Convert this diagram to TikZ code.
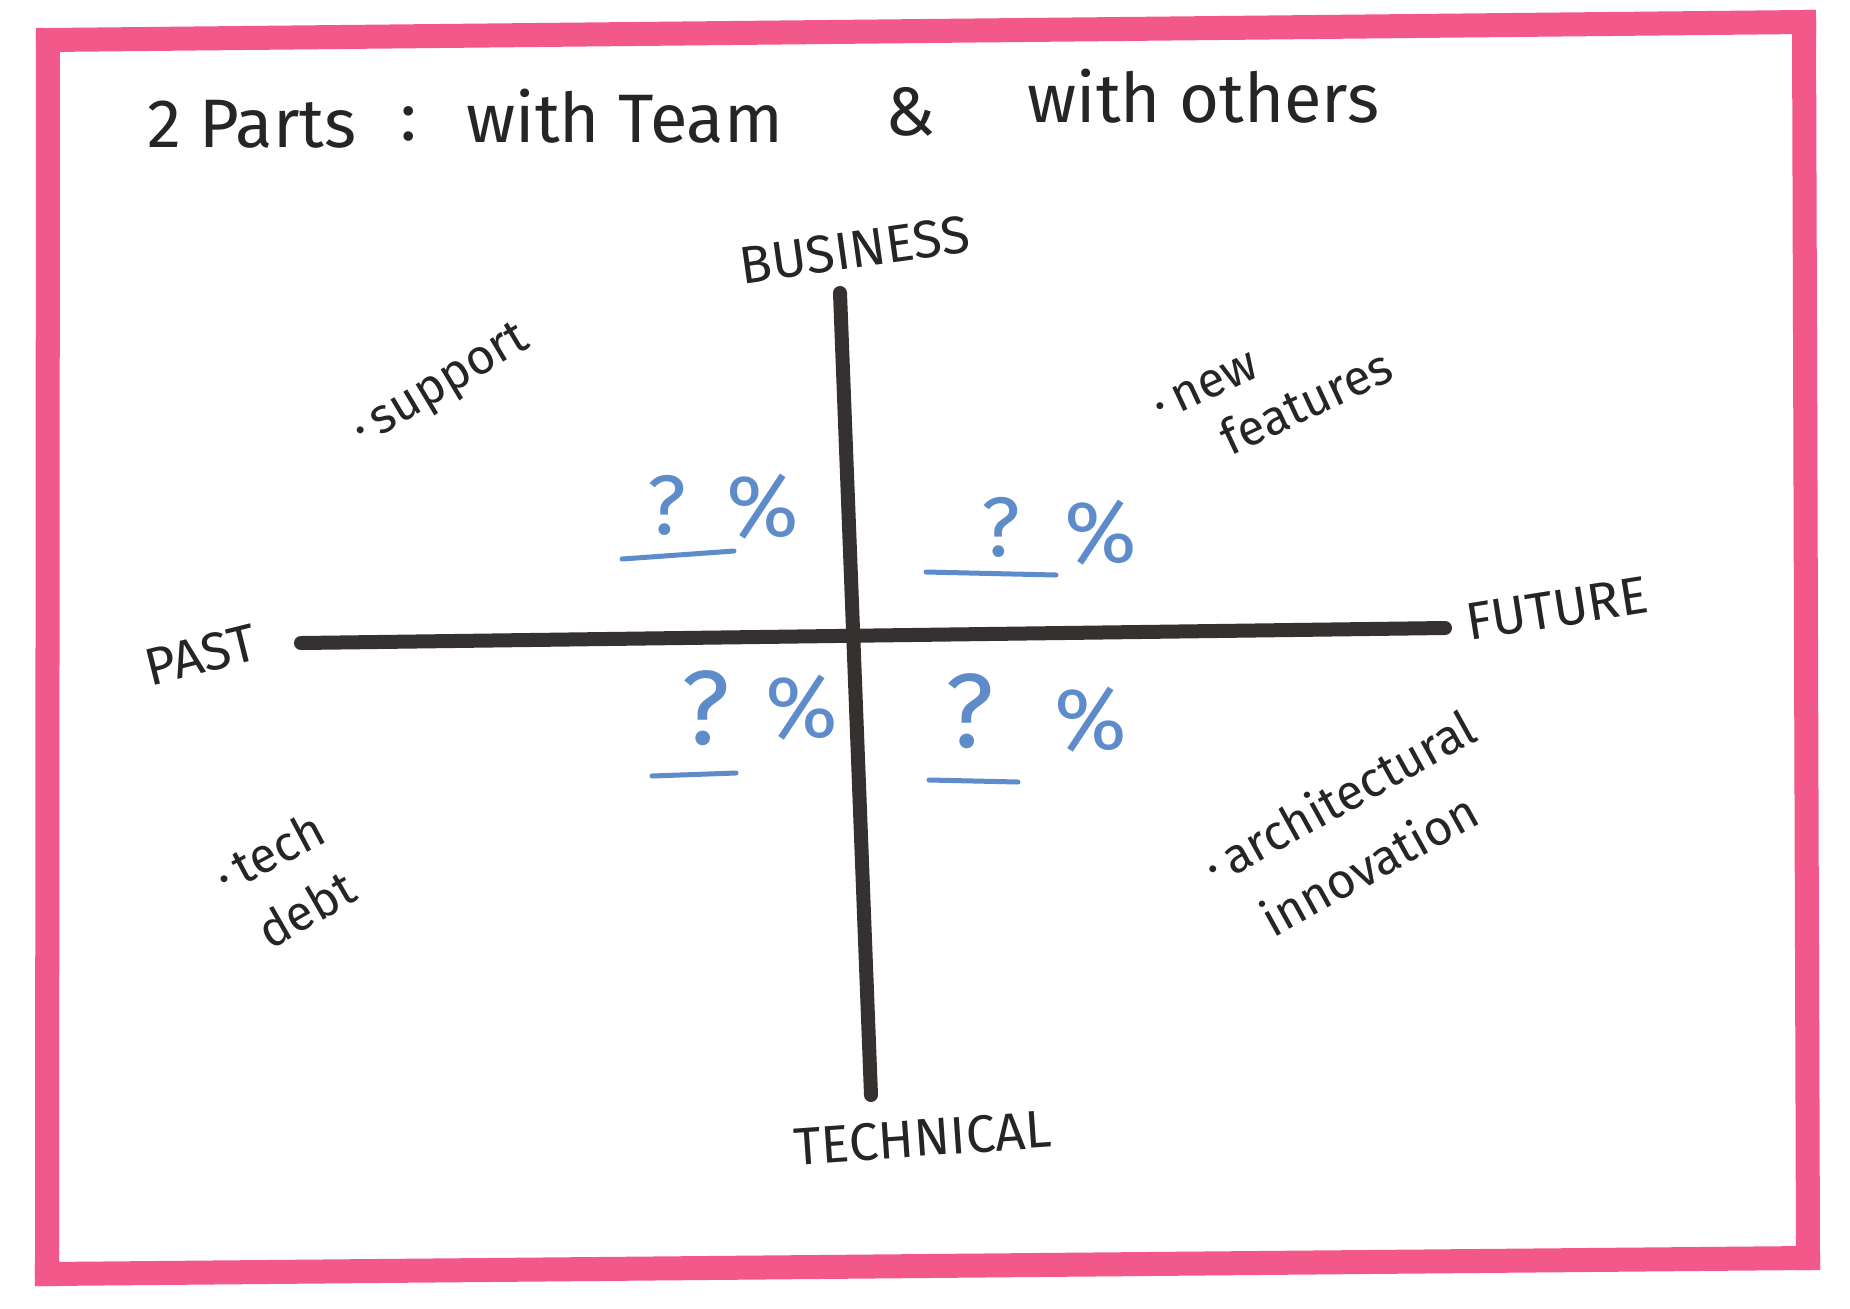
\documentclass[tikz,border=0pt]{standalone}
\usepackage{fontspec}
\setmainfont{Fira Sans}
\definecolor{framepink}{HTML}{F2588A}
\definecolor{ink}{HTML}{262424}
\definecolor{axisgray}{HTML}{353131}
\definecolor{pen}{HTML}{5E8CCB}
\begin{document}
\begin{tikzpicture}[x=0.01cm,y=-0.01cm,
  titletext/.style={font=\fontsize{19.5}{23}\selectfont, text=ink, inner sep=0, anchor=base west},
  axislabel/.style={font=\fontsize{15}{18}\selectfont, text=ink, inner sep=0},
  note/.style={font=\fontsize{14}{17}\selectfont, text=ink, inner sep=0},
  qsmall/.style={font=\fontsize{24}{28}\selectfont, text=pen, inner sep=0},
  qbig/.style={font=\fontsize{30}{34}\selectfont, text=pen, inner sep=0},
  pct/.style={font=\fontsize{25}{29}\selectfont, text=pen, inner sep=0},
  penline/.style={draw=pen, line width=0.05cm, line cap=round},
  frameside/.style={draw=framepink, line width=0.24cm, line cap=rect},
  axisline/.style={draw=axisgray, line width=0.14cm, line cap=round}]
\useasboundingbox[fill=white] (0,0) rectangle (1850,1308);
% frame
\coordinate (ftl) at (48,40);
\coordinate (ftr) at (1804,22);
\coordinate (fbr) at (1808,1258);
\coordinate (fbl) at (47,1274);
\draw[frameside] (ftl) -- (ftr);
\draw[frameside] (ftr) -- (fbr);
\draw[frameside] (fbr) -- (fbl);
\draw[frameside] (fbl) -- (ftl);
% title
\node[titletext] (t1) at (147,147) {2 Parts};
\node[titletext] (t2) at (400,140) {:};
\node[titletext] (t3) at (466,142) {with Team};
\node[titletext] (t4) at (885,135) {\&};
\node[titletext] (t5) at (1027,122) {with others};
% axes
\coordinate (pastend) at (301,643);
\coordinate (futend) at (1445,628);
\coordinate (bizend) at (840,293);
\coordinate (techend) at (871,1095);
\draw[axisline] (pastend) -- (futend);
\draw[axisline] (bizend) -- (techend);
% axis labels
\node[axislabel, rotate=8] (biz) at (855,250) {BUSINESS};
\node[axislabel, rotate=14] (past) at (201,655) {PAST};
\node[axislabel, rotate=9] (fut) at (1557,609) {FUTURE};
\node[axislabel, rotate=4] (tech) at (923,1138) {TECHNICAL};
% notes
\node[note, rotate=31] (sup) at (442,387) {·\,support};
\node[note, rotate=25] (new) at (1206,387) {·\,new};
\node[note, rotate=25] (feat) at (1306,401) {features};
\node[note, rotate=28] (tch) at (269,852) {·\,tech};
\node[note, rotate=30] (debt) at (306,909) {debt};
\node[note, rotate=29] (arch) at (1339,796) {·\,architectural};
\node[note, rotate=29] (innov) at (1369,864) {innovation};
% quadrant percentages
\node[qsmall] (q1) at (667,505) {?};
\node[pct] (p1) at (763,507) {\%};
\draw[penline] (622,559) -- (734,551);
\node[qsmall] (q2) at (1001,527) {?};
\node[pct] (p2) at (1101,533) {\%};
\draw[penline] (926,572) -- (1056,575);
\node[qbig] (q3) at (706,708) {?};
\node[pct] (p3) at (802,708) {\%};
\draw[penline] (652,776) -- (736,773);
\node[qbig] (q4) at (970,711) {?};
\node[pct] (p4) at (1091,720) {\%};
\draw[penline] (929,780) -- (1018,782);
\end{tikzpicture}
\end{document}
